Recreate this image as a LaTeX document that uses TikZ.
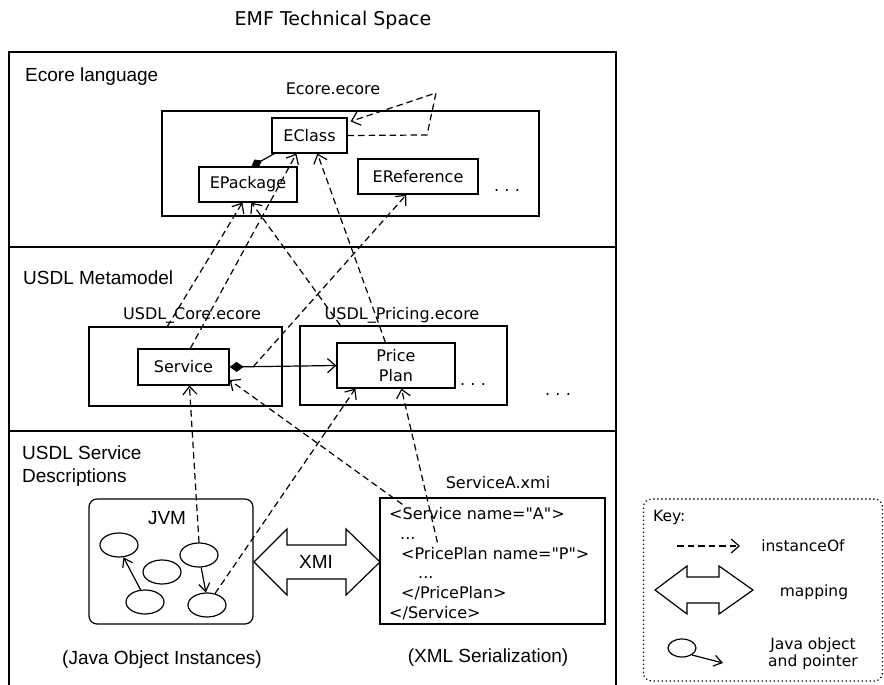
\documentclass[tikz,border=0pt]{standalone}
\usepackage{fontspec}
\setmainfont{Liberation Sans}
\newfontfamily\dv{DejaVu Sans}
\usetikzlibrary{arrows.meta,shapes.geometric,calc}
\begin{document}
\begin{tikzpicture}[x=1pt,y=-1pt,
  box/.style={draw,line width=1.2pt,inner sep=0pt,font=\dv\fontsize{16}{19}\selectfont},
  lbl/.style={font=\fontsize{19}{23}\selectfont,anchor=west,inner sep=0pt,align=left},
  dvl/.style={font=\dv\fontsize{16}{19}\selectfont,inner sep=0pt},
  keyt/.style={font=\dv\fontsize{15.5}{17}\selectfont,inner sep=0pt,align=center},
  inst/.style={dash pattern=on 6.5pt off 4pt,line width=1.2pt,-{Straight Barb[length=8pt,width=14pt,line width=1.2pt]}},
  obj/.style={draw,ellipse,line width=1.2pt,minimum width=38pt,minimum height=24pt,inner sep=0pt},
  ptr/.style={line width=1.2pt,-{Straight Barb[length=8pt,width=11pt,line width=1.2pt]}},
  frm/.style={line width=1.7pt},
  mapshape/.style={draw,line width=1.2pt,line join=miter}]
\useasboundingbox (0,0) rectangle (884,685);

% title and frame
\node[font=\dv\fontsize{19}{22}\selectfont] (title) at (333,20) {EMF Technical Space};
\draw[frm] (9,687) -- (9,52) -- (616,52) -- (616,687);
\draw[frm] (9,247) -- (616,247);
\draw[frm] (9,431) -- (616,431);

% section labels
\node[lbl] (lab1) at (25,77) {Ecore language};
\node[lbl] (lab2) at (23,278) {USDL Metamodel};
\node[lbl] (lab3) at (22,466) {USDL Service\\Descriptions};

% Ecore layer
\node[dvl] (ecorelbl) at (333,89) {Ecore.ecore};
\node[box,minimum width=377pt,minimum height=105pt] (ecorebox) at (350.5,163.5) {};
\node[box,minimum width=75pt,minimum height=35pt] (eclass) at (309.5,135.5) {EClass};
\node[box,minimum width=98pt,minimum height=35pt] (epackage) at (248,184.5) {EPackage};
\node[box,minimum width=120pt,minimum height=35pt] (ereference) at (418,176.5) {EReference};
\node[dvl] (dots1) at (507,191) {.\,\,.\,\,.};

% Metamodel layer
\node[dvl] (corelbl) at (192,315) {USDL\_Core.ecore};
\node[dvl] (pricinglbl) at (402,315) {USDL\_Pricing.ecore};
\node[box,minimum width=193pt,minimum height=79pt] (usdlcore) at (185.5,366.5) {};
\node[box,minimum width=207pt,minimum height=79pt] (pricing) at (403.5,365.5) {};
\node[box,minimum width=91pt,minimum height=36pt] (service) at (183.5,367) {Service};
\node[box,minimum width=118pt,minimum height=45pt,align=center,font=\dv\fontsize{16}{20}\selectfont] (priceplan) at (396,365.5) {Price\\Plan};
\node[dvl] (dots2) at (473,385) {.\,\,.\,\,.};
\node[dvl] (dots3) at (558,395) {.\,\,.\,\,.};

% Instances layer
\node[box,rounded corners=8pt,minimum width=164pt,minimum height=125pt] (jvm) at (171,561.5) {};
\node[lbl,anchor=center] (jvmlbl) at (167,518) {JVM};
\node[obj] (e1) at (119,545) {};
\node[obj] (e2) at (162,572) {};
\node[obj] (e3) at (199,555) {};
\node[obj] (e4) at (145,602) {};
\node[obj] (e5) at (207,605) {};
\draw[ptr] (e4.110) -- (e1.-70);
\draw[ptr] (e3.-80) -- (e5.95);

\node[dvl] (xmilbl) at (498,483) {ServiceA.xmi};
\node[box,minimum width=225pt,minimum height=126pt] (xmi) at (492.5,561) {};
\node[dvl,anchor=base west] (x1) at (389,519) {<Service name="A">};
\node[dvl,anchor=base west] (x2) at (400,539) {...};
\node[dvl,anchor=base west] (x3) at (401,559) {<PricePlan name="P">};
\node[dvl,anchor=base west] (x4) at (418,578) {...};
\node[dvl,anchor=base west] (x5) at (401,598) {</PricePlan>};
\node[dvl,anchor=base west] (x6) at (389,618) {</Service>};

% XMI mapping arrow
\draw[mapshape] (254,562) -- (287,529) -- (287,545) -- (346,545) -- (346,529) -- (380,562)
  -- (346,595) -- (346,579) -- (287,579) -- (287,595) -- cycle;
\node[lbl,anchor=center] (xmitext) at (316,562) {XMI};

\node[lbl,anchor=center] (cap1) at (162,660) {(Java Object Instances)};
\node[lbl,anchor=center] (cap2) at (488,658) {(XML Serialization)};

% composition associations
\draw[line width=1.2pt,-{Diamond[length=12pt,width=9pt]}] ([xshift=3pt]eclass.south west) -- ([xshift=53pt]epackage.north west);
\draw[line width=1.2pt,{Diamond[length=14pt,width=10pt]}-{Straight Barb[length=8pt,width=14pt,line width=1.2pt]}] (service.east) -- (priceplan.west);
\coordinate (assoc) at ($(service.east)!0.222!(priceplan.west)$);

% instanceOf connectors
\coordinate (l1) at (427,135);
\coordinate (l2) at (436,93);
\draw[inst] (eclass.east) -- (l1) -- (l2) -- ([xshift=3pt,yshift=-4pt]eclass.north east);
\draw[inst] ([xshift=79pt]usdlcore.north west) -- ([xshift=44pt]epackage.south west);
\draw[inst] ([xshift=53pt]service.north west) -- ([xshift=25pt]eclass.south west);
\draw[inst] ([xshift=41pt]pricing.north west) -- ([xshift=53pt]epackage.south west);
\draw[inst] ([xshift=49pt]priceplan.north west) -- ([xshift=46pt]eclass.south west);
\draw[inst] (assoc) -- ([xshift=49pt]ereference.south west);
\draw[inst] (e3.north) -- ([xshift=52pt]service.south west);
\draw[inst] (e5.55) -- ([xshift=19pt]priceplan.south west);
\draw[inst] ([xshift=23pt,yshift=-7pt]xmi.north west) -- ([yshift=-13pt]service.east);
\draw[inst] ([xshift=58pt,yshift=-45pt]xmi.north west) -- ([xshift=65pt]priceplan.south west);

% Key
\node[draw,rounded corners=8pt,line width=1.2pt,dash pattern=on 1.3pt off 2.7pt,minimum width=239pt,minimum height=182pt,inner sep=0pt] (keybox) at (763,590) {};
\node[keyt,anchor=west] (keylbl) at (653,517) {Key:};
\coordinate (k1) at (677,546);
\coordinate (k2) at (740,546);
\draw[inst] (k1) -- (k2);
\node[keyt] (kinst) at (803,546) {instanceOf};
\draw[mapshape] (655,590) -- (687,566) -- (687,577) -- (719,577) -- (719,566) -- (753,590)
  -- (719,614) -- (719,603) -- (687,603) -- (687,614) -- cycle;
\node[keyt] (kmap) at (814,592) {mapping};
\node[obj,minimum width=28pt,minimum height=18pt] (kobj) at (682,648) {};
\coordinate (k3) at (723,663);
\draw[ptr] (kobj.-35) -- (k3);
\node[keyt] (kjava) at (813,654) {Java object\\and pointer};
\end{tikzpicture}
\end{document}
